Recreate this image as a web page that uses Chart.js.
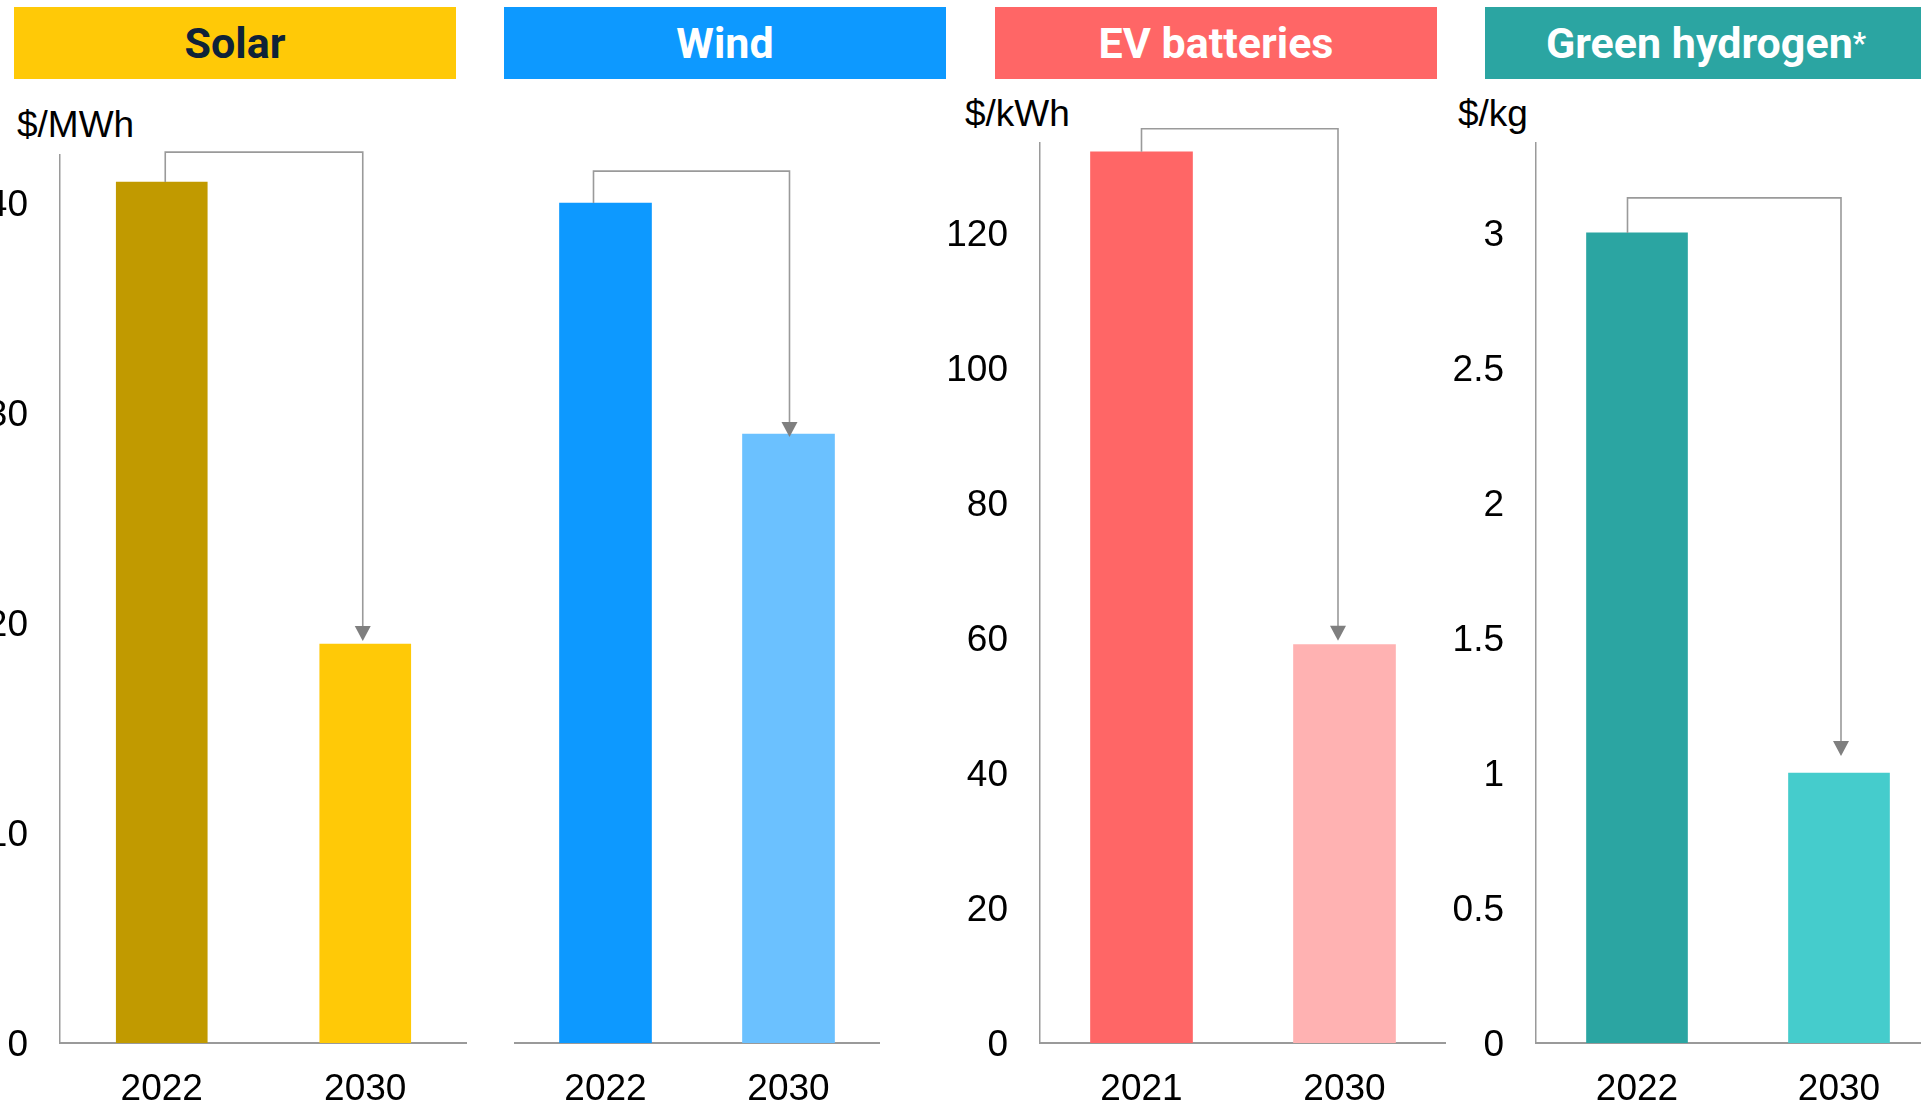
<!DOCTYPE html>
<html>
<head>
<meta charset="utf-8">
<script src="https://cdn.jsdelivr.net/npm/chart.js@4.4.1/dist/chart.umd.min.js"></script>
<style>
  html, body { margin: 0; padding: 0; background: #fff; }
  body { width: 1921px; height: 1105px; overflow: hidden; position: relative; }
  canvas { position: absolute; top: 0; }
  .hdr { position: absolute; top: 7px; height: 72px; width: 442px; display: flex; align-items: center; justify-content: center;
         font-family: Roboto, 'Noto Sans', sans-serif; font-weight: 700; font-size: 43px; color: #fff; white-space: nowrap; }
  .unit { position: absolute; font-family: 'Liberation Sans', Arial, sans-serif; font-size: 37px; line-height: 37px; color: #000; white-space: nowrap; }
</style>
</head>
<body>
<div class="hdr" style="left:14px;background:#FFC907;color:#0E2238;">Solar</div>
<div class="hdr" style="left:504px;background:#0D99FF;">Wind</div>
<div class="hdr" style="left:995px;background:#FF6666;">EV batteries</div>
<div class="hdr" style="left:1485px;background:#2BA5A2;">Green hydrogen<span style="font-size:0.68em;vertical-align:0.32em;">*</span></div>

<div class="unit" style="left:17px;top:106px;">$/MWh</div>
<div class="unit" style="left:965px;top:95px;">$/kWh</div>
<div class="unit" style="left:1458px;top:95px;">$/kg</div>

<canvas id="solar" width="507" height="1105" style="left:-40px;"></canvas>
<canvas id="wind" width="366" height="1105" style="left:514px;"></canvas>
<canvas id="ev" width="506" height="1105" style="left:940px;"></canvas>
<canvas id="h2" width="504" height="1105" style="left:1436px;"></canvas>

<script>
// ---- Data ----
const solarYears = ['2022', '2030'];
const solarValues = [41, 19];
const solarTicks = [0, 10, 20, 30, 40];

const windYears = ['2022', '2030'];
const windValues = [40, 29];

const evYears = ['2021', '2030'];
const evValues = [132, 59];
const evTicks = [0, 20, 40, 60, 80, 100, 120];

const h2Years = ['2022', '2030'];
const h2Values = [3, 1];
const h2Ticks = [0, 0.5, 1, 1.5, 2, 2.5, 3];

// ---- Connector (bracket arrow) plugin ----
const connectorPlugin = {
  id: 'connector',
  afterDatasetsDraw(chart, args, opts) {
    const meta = chart.getDatasetMeta(0);
    if (!meta || meta.data.length < 2) return;
    const b0 = meta.data[0], b1 = meta.data[1];
    const x0 = b0.x + (opts.dx0 || 0);
    const x1 = b1.x + (opts.dx1 || 0);
    const yTop = b0.y - opts.rise;
    const tip = b1.y - opts.gap;
    const head = 15, hw = 8;
    const ctx = chart.ctx;
    ctx.save();
    ctx.strokeStyle = '#9a9a9a';
    ctx.lineWidth = 1.6;
    ctx.beginPath();
    ctx.moveTo(x0, b0.y);
    ctx.lineTo(x0, yTop);
    ctx.lineTo(x1, yTop);
    ctx.lineTo(x1, tip - head + 1);
    ctx.stroke();
    ctx.fillStyle = '#7f7f7f';
    ctx.beginPath();
    ctx.moveTo(x1 - hw, tip - head);
    ctx.lineTo(x1 + hw, tip - head);
    ctx.lineTo(x1, tip);
    ctx.closePath();
    ctx.fill();
    ctx.restore();
  }
};

const FONT = "'Liberation Sans', Arial, sans-serif";

function makeChart(id, labels, values, colors, opt) {
  const yScale = {
    min: 0,
    max: opt.max,
    grid: { display: false, drawTicks: false },
    border: { display: opt.showY, color: '#9a9a9a', width: 1.5 },
    ticks: {
      display: opt.showY,
      padding: 32,
      labelOffset: 3,
      color: '#000',
      font: { family: FONT, size: 37 },
      callback: v => String(v)
    },
    afterBuildTicks: axis => {
      if (opt.ticks) axis.ticks = opt.ticks.map(v => ({ value: v }));
    },
    afterFit: s => { s.width = opt.yWidth; }
  };
  return new Chart(document.getElementById(id), {
    type: 'bar',
    data: {
      labels: labels,
      datasets: [{
        data: values,
        backgroundColor: colors,
        borderWidth: 0,
        categoryPercentage: 1,
        barThickness: opt.barW
      }]
    },
    options: {
      responsive: false,
      animation: false,
      devicePixelRatio: 1,
      layout: { padding: { top: opt.top, left: 0, right: 0, bottom: 0 } },
      plugins: {
        legend: { display: false },
        tooltip: { enabled: false },
        title: { display: false },
        connector: opt.conn
      },
      scales: {
        x: {
          grid: { display: false, drawTicks: false },
          border: { display: true, color: '#9a9a9a', width: 2 },
          ticks: { padding: 25, color: '#000', font: { family: FONT, size: 37 }, maxRotation: 0 },
          afterFit: s => { s.height = 62; }
        },
        y: yScale
      }
    },
    plugins: [connectorPlugin]
  });
}

makeChart('solar', solarYears, solarValues, ['#C19A00', '#FFC907'],
  { max: 42.29, top: 155, showY: true, ticks: solarTicks, yWidth: 100, barW: 91,
    conn: { rise: 30, gap: 3, dx0: 3.5, dx1: -2.5 } });

makeChart('wind', windYears, windValues, ['#0D99FF', '#6BC1FF'],
  { max: 42.29, top: 155, showY: false, ticks: null, yWidth: 0, barW: 92,
    conn: { rise: 32, gap: -3, dx0: -12, dx1: 1 } });

makeChart('ev', evYears, evValues, ['#FF6666', '#FFB2B2'],
  { max: 133.3, top: 143, showY: true, ticks: evTicks, yWidth: 100, barW: 102,
    conn: { rise: 23, gap: 4, dx0: 0, dx1: -6.5 } });

makeChart('h2', h2Years, h2Values, ['#2BA5A2', '#45CCCC'],
  { max: 3.333, top: 143, showY: true, ticks: h2Ticks, yWidth: 100, barW: 101,
    conn: { rise: 35, gap: 17, dx0: -9.5, dx1: 2 } });
</script>
</body>
</html>
